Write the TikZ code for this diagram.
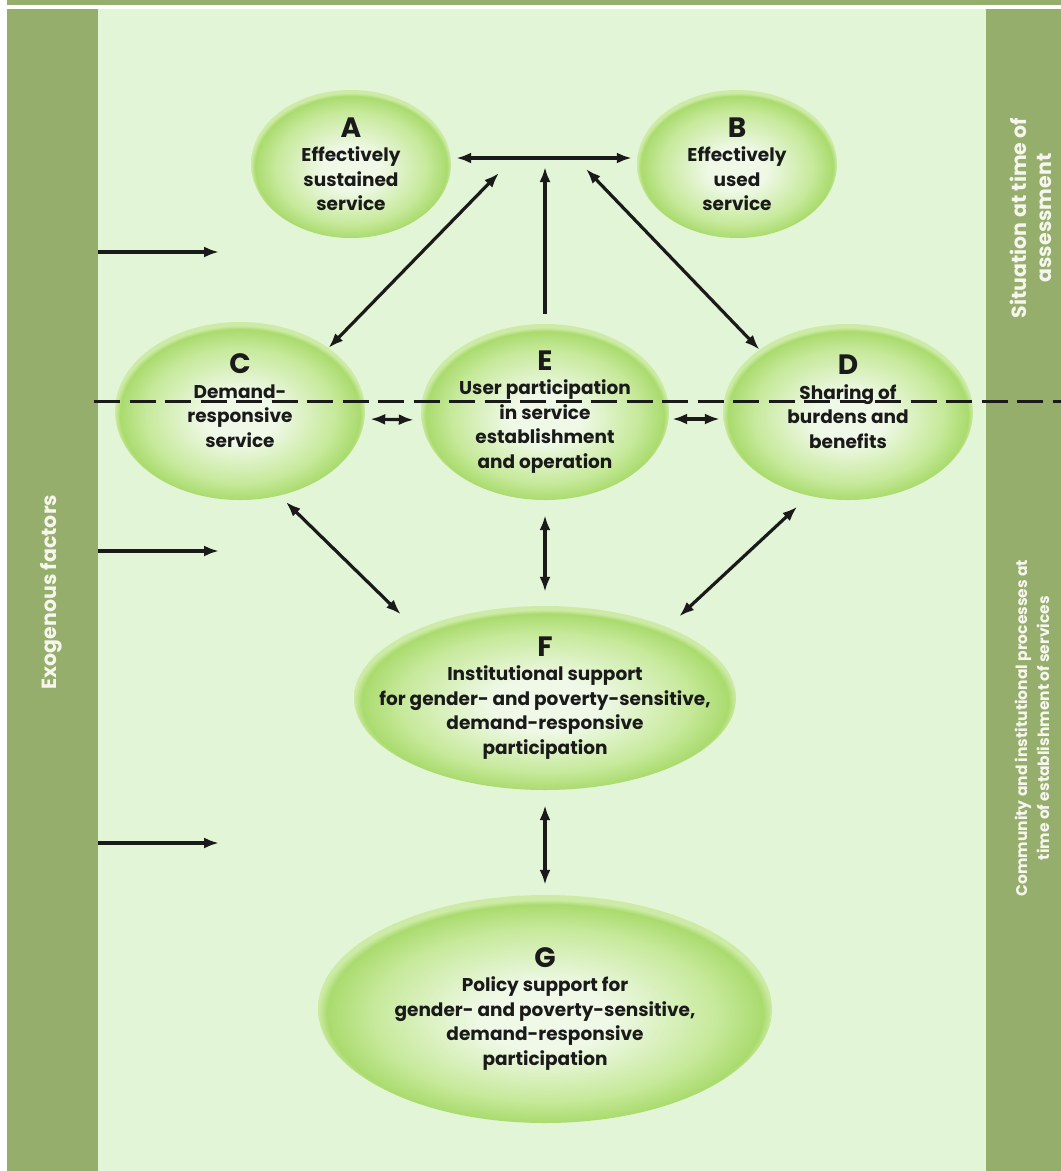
\documentclass[tikz,border=0pt]{standalone}
\usepackage{fontspec}
\setmainfont{Poppins}
\usetikzlibrary{positioning, arrows.meta, shapes.geometric}

\definecolor{barGreen}{HTML}{96AE6C}
\definecolor{paleGreen}{HTML}{E2F5D6}
\definecolor{ellIn}{HTML}{F0F9E8}
\definecolor{ellMid}{HTML}{C6E99A}
\definecolor{ellOut}{HTML}{AADB6E}
\definecolor{ellRim}{HTML}{CDEBA6}
\definecolor{inkDark}{HTML}{1A1A1A}
\definecolor{sideInk}{HTML}{F6F6EE}

% bola hijau di setiap tahap
\pgfdeclareradialshading{ellglow}{\pgfpoint{0bp}{-2bp}}{color(0bp)=(ellIn); color(7bp)=(ellIn); color(19bp)=(ellMid); color(24bp)=(ellOut); color(25bp)=(ellRim); color(50bp)=(ellRim)}

\begin{document}
\begin{tikzpicture}[x=1pt, y=-1pt,
    >={Latex[length=15pt,width=11pt]},
    stage/.style={ellipse, shading=ellglow, inner sep=-60pt, align=center,
      font=\bfseries\fontsize{18.5}{24.5}\selectfont, text=inkDark},
    link/.style={inkDark, line width=3.2pt},
    sidetext/.style={rotate=90, align=center, text=sideInk,
      font=\bfseries\fontsize{20.5}{25}\selectfont}]
    % ukuran huruf judul
    \def\ltr#1{{\fontsize{28}{28}\selectfont #1}}

    \useasboundingbox (0,0) rectangle (1061,1171);

    % panel latar
    \fill[barGreen] (7,0) rectangle (1061,4.5);
    \fill[barGreen] (7,9) rectangle (98,1171);
    \fill[paleGreen] (98,9) rectangle (986,1171);
    \fill[barGreen] (986,9) rectangle (1061,1171);

    % label samping
    \node[sidetext] (exo) at (51,592) {Exogenous factors};
    \node[sidetext] (now) at (1031,218) {Situation at time of\\assessment};
    \node[sidetext, font=\bfseries\fontsize{15.5}{22}\selectfont] (proc) at (1032,728)
      {Community and institutional processes at\\time of establishment of services};

    % tahap A sampai G
    \node[stage, minimum width=200pt, minimum height=148pt] (A) at (351,164)
      {\ltr{A}\\Effectively\\sustained\\service};
    \node[stage, minimum width=200pt, minimum height=148pt] (B) at (737,164)
      {\ltr{B}\\Effectively\\used\\service};
    \node[stage, minimum width=250pt, minimum height=178pt] (C) at (240,411)
      {\ltr{C}\\Demand-\\responsive\\service\\[-4pt]~};
    \node[stage, minimum width=248pt, minimum height=176pt] (E) at (545,412)
      {\ltr{E}\\User participation\\in service\\establishment\\and operation};
    \node[stage, minimum width=250pt, minimum height=176pt] (D) at (848,412)
      {\ltr{D}\\Sharing of\\burdens and\\benefits\\[-4pt]~};
    \node[stage, minimum width=382pt, minimum height=184pt] (F) at (545,698)
      {\ltr{F}\\Institutional support\\for gender- and poverty-sensitive,\\demand-responsive\\participation};
    \node[stage, minimum width=454pt, minimum height=228pt] (G) at (545,1009)
      {\ltr{G}\\Policy support for\\gender- and poverty-sensitive,\\demand-responsive\\participation};

    % garis putus-putus
    \draw[inkDark, line width=3pt, dash pattern=on 26pt off 9.5pt] (94,401) -- (1061,401);

    % titik ujung panah atas
    \coordinate (hub) at (545,158);
    \coordinate (hubL) at (499,173);
    \coordinate (hubR) at (586,169);

    % panah antar tahap
    \draw[link, <->, shorten <=5pt, shorten >=5pt] ([yshift=6pt]A.east) -- ([yshift=6pt]B.west);
    \draw[link, ->, shorten <=10pt, shorten >=9pt] (E.north) -- (hub);
    \draw[link, <->] (C.north east) -- (hubL);
    \draw[link, <->] (D.north west) -- (hubR);
    \draw[link, <->, shorten <=5pt, shorten >=7pt] ([yshift=-8pt]C.east) -- ([yshift=-8pt]E.west);
    \draw[link, <->, shorten <=3pt, shorten >=3pt] ([yshift=-7pt]E.east) -- ([yshift=-7pt]D.west);
    \draw[link, <->, shorten <=9pt, shorten >=22pt] (C.-65) -- (F.152);
    \draw[link, <->, shorten <=15pt, shorten >=14pt] (E.south) -- (F.north);
    \draw[link, <->, shorten <=16pt, shorten >=16pt] (D.-115) -- (F.30);
    \draw[link, <->, shorten <=15pt, shorten >=10pt] (F.south) -- (G.north);

    % panah faktor luar
    \foreach \yy [count=\i] in {252,551,843}{
        \coordinate (exos\i) at (98,\yy);
        \coordinate (exoe\i) at (219,\yy);
        \draw[link, ->] (exos\i) -- (exoe\i);
      }
  \end{tikzpicture}
\end{document}
